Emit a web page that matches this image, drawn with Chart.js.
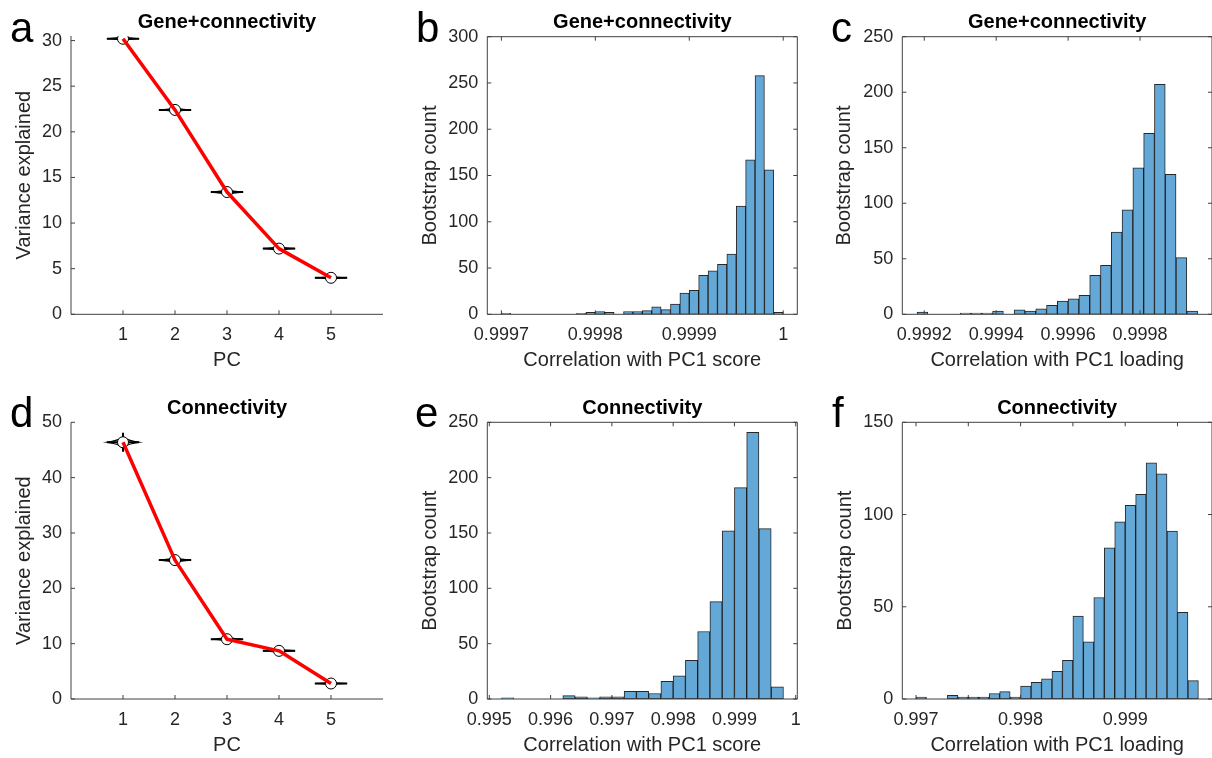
<!DOCTYPE html>
<html>
<head>
<meta charset="utf-8">
<script src="https://cdn.jsdelivr.net/npm/chart.js@4.4.1/dist/chart.umd.min.js"></script>
<style>
  body { margin: 0; background: #fff; }
  #fig { position: relative; width: 1212px; height: 758px; overflow: hidden; }
  #fig canvas { position: absolute; }
</style>
</head>
<body>
<div id="fig">
  <canvas id="pa" width="404" height="379" style="left:0px;top:0px"></canvas>
  <canvas id="pb" width="404" height="379" style="left:404px;top:0px"></canvas>
  <canvas id="pc" width="404" height="379" style="left:808px;top:0px"></canvas>
  <canvas id="pd" width="404" height="379" style="left:0px;top:379px"></canvas>
  <canvas id="pe" width="404" height="379" style="left:404px;top:379px"></canvas>
  <canvas id="pf" width="404" height="379" style="left:808px;top:379px"></canvas>
</div>
<script>
// variance explained by the first five PCs
const pcs = [1, 2, 3, 4, 5]
const varGeneConn = [30.2, 22.4, 13.4, 7.2, 4.0]
const varConn = [46.4, 25.1, 10.8, 8.7, 2.8]
// bootstrap spread (half height of the violin) and whisker half length
const spreadGeneConn = [0.2, 0.2, 0.25, 0.2, 0.17]
const spreadConn = [0.95, 0.5, 0.38, 0.3, 0.22]
const whiskerGeneConn = [0, 0, 0, 0, 0]
const whiskerConn = [1.7, 0, 0, 0, 0]

// bootstrap histograms : first bin edge, bin width, counts
const scoreGCStart = 0.9997, scoreGCWidth = 0.00001
const scoreGCCounts = [1, 0, 0, 0, 0, 0, 0, 0, 1, 2, 3, 2, 0, 3, 3, 4, 8, 5, 11, 23, 26, 42, 47, 54, 65, 117, 167, 258, 156, 2]
const loadGCStart = 0.99918, loadGCWidth = 0.00003
const loadGCCounts = [2, 0, 0, 0, 1, 1, 1, 3, 0, 4, 3, 5, 8, 12, 14, 17, 35, 44, 74, 94, 132, 163, 207, 126, 51, 3]
const scoreCStart = 0.9952, scoreCWidth = 0.0002
const scoreCCounts = [1, 0, 0, 0, 0, 3, 2, 1, 2, 2, 7, 7, 5, 16, 21, 35, 61, 88, 152, 191, 241, 154, 11]
const loadCStart = 0.997, loadCWidth = 0.0001
const loadCCounts = [1, 0, 0, 2, 1, 1, 1, 3, 4, 1, 7, 9, 11, 15, 21, 45, 31, 55, 82, 96, 105, 111, 128, 122, 91, 47, 10]

// ticks
const pcTicks = [1, 2, 3, 4, 5]
const varGCTicks = [0, 5, 10, 15, 20, 25, 30]
const varCTicks = [0, 10, 20, 30, 40, 50]
const scoreGCTicks = [0.9997, 0.9998, 0.9999, 1]
const scoreGCLabels = ['0.9997', '0.9998', '0.9999', '1']
const loadGCTicks = [0.9992, 0.9994, 0.9996, 0.9998]
const loadGCLabels = ['0.9992', '0.9994', '0.9996', '0.9998']
const scoreCTicks = [0.995, 0.996, 0.997, 0.998, 0.999, 1]
const scoreCLabels = ['0.995', '0.996', '0.997', '0.998', '0.999', '1']
const loadCTicks = [0.997, 0.9975, 0.998, 0.9985, 0.999, 0.9995]
const loadCLabels = ['0.997', '', '0.998', '', '0.999', '']
const countTicks300 = [0, 50, 100, 150, 200, 250, 300]
const countTicks250 = [0, 50, 100, 150, 200, 250]
const countTicks150 = [0, 50, 100, 150]

const axisColor = '#404040'
const textColor = '#262626'
const barFill = '#63a8d6'
const barEdge = 'rgba(15,15,15,0.9)'
const tickLen = 4
const xAxisHeight = 58.5

Chart.defaults.font.family = '"Liberation Sans", Arial, Helvetica, sans-serif'
Chart.defaults.color = textColor

// bin centres for the linear x axis
const binPoints = (start, width, counts) => counts.map((c, i) => ({ x: start + (i + 0.5) * width, y: c }))

// axes lines and inward ticks (box for the histograms)
const frame = {
  id: 'frame',
  afterDatasetsDraw(chart, args, opts) {
    const { ctx, chartArea: { left, right, top, bottom }, scales: { x, y } } = chart
    ctx.save()
    ctx.strokeStyle = axisColor
    ctx.lineWidth = 1
    ctx.beginPath()
    ctx.moveTo(left, top); ctx.lineTo(left, bottom); ctx.lineTo(right, bottom)
    if (opts.box) { ctx.lineTo(right, top); ctx.lineTo(left, top) }
    x.ticks.forEach(t => {
      const px = x.getPixelForValue(t.value)
      ctx.moveTo(px, bottom); ctx.lineTo(px, bottom - tickLen)
      if (opts.box) { ctx.moveTo(px, top); ctx.lineTo(px, top + tickLen) }
    })
    y.ticks.forEach(t => {
      const py = y.getPixelForValue(t.value)
      ctx.moveTo(left, py); ctx.lineTo(left + tickLen, py)
      if (opts.box) { ctx.moveTo(right, py); ctx.lineTo(right - tickLen, py) }
    })
    ctx.stroke()
    ctx.restore()
  }
}

// panel letter + bold title over the plot
const panelText = {
  id: 'panelText',
  afterDraw(chart, args, opts) {
    const { ctx, chartArea: { left, right, top } } = chart
    ctx.save()
    ctx.fillStyle = '#000'
    ctx.textBaseline = 'alphabetic'
    ctx.textAlign = 'center'
    ctx.font = 'bold 20px "Liberation Sans", Arial, sans-serif'
    ctx.fillText(opts.title, (left + right) / 2, top - 8.5)
    ctx.textAlign = 'left'
    ctx.font = '42px "Liberation Sans", Arial, sans-serif'
    ctx.fillText(opts.letter, opts.letterX, opts.letterY)
    ctx.restore()
  }
}

// violin-like bootstrap distributions behind the markers
const violins = {
  id: 'violins',
  beforeDatasetsDraw(chart, args, opts) {
    if (!opts.values) return
    const { ctx, scales: { x, y } } = chart
    ctx.save()
    opts.values.forEach((v, i) => {
      const cx = x.getPixelForValue(pcs[i])
      const cy = y.getPixelForValue(v)
      const hw = x.getPixelForValue(pcs[i] + opts.halfWidth) - cx
      const hh = Math.max(cy - y.getPixelForValue(v + opts.spread[i]), 0.8)
      ctx.beginPath()
      ctx.moveTo(cx - hw, cy)
      ctx.quadraticCurveTo(cx - hw * 0.3, cy - hh * 0.3, cx, cy - hh)
      ctx.quadraticCurveTo(cx + hw * 0.3, cy - hh * 0.3, cx + hw, cy)
      ctx.quadraticCurveTo(cx + hw * 0.3, cy + hh * 0.3, cx, cy + hh)
      ctx.quadraticCurveTo(cx - hw * 0.3, cy + hh * 0.3, cx - hw, cy)
      ctx.closePath()
      ctx.fillStyle = '#cfcfcf'
      ctx.fill()
      ctx.strokeStyle = '#000'
      ctx.lineWidth = 1.2
      ctx.stroke()
      ctx.lineWidth = 2
      ctx.beginPath()
      ctx.moveTo(cx - hw, cy); ctx.lineTo(cx + hw, cy)
      if (opts.whisker[i] > 0) {
        const wh = cy - y.getPixelForValue(v + opts.whisker[i])
        ctx.moveTo(cx, cy - wh); ctx.lineTo(cx, cy + wh)
      }
      ctx.stroke()
    })
    ctx.restore()
  }
}

function xAxis(min, max, values, labels, text) {
  return {
    type: 'linear', min, max, offset: false, bounds: 'data',
    grid: { display: false, drawTicks: false },
    border: { display: false },
    ticks: { autoSkip: false, maxRotation: 0, minRotation: 0, padding: 10, font: { size: 18 }, color: textColor,
      callback: (v, i) => labels[i] },
    title: { display: true, text, font: { size: 20 }, color: textColor, padding: 0 },
    afterBuildTicks: s => { s.ticks = values.map(v => ({ value: v })) },
    afterFit: s => { s.height = xAxisHeight; s.paddingLeft = 0; s.paddingRight = 0 }
  }
}

function yAxis(min, max, values, text, width) {
  return {
    type: 'linear', min, max, bounds: 'data',
    grid: { display: false, drawTicks: false },
    border: { display: false },
    ticks: { autoSkip: false, padding: 9, font: { size: 18 }, color: textColor, callback: v => String(v) },
    title: { display: true, text, font: { size: 20 }, color: textColor, padding: 0 },
    afterBuildTicks: s => { s.ticks = values.map(v => ({ value: v })) },
    afterFit: s => { s.width = width; s.paddingTop = 0; s.paddingBottom = 0 }
  }
}

// padding so that the plot box lands on [left, top, right, bottom] of the page
function layoutFor(el, plot, yWidth) {
  const cx = parseFloat(el.style.left), cy = parseFloat(el.style.top)
  return {
    left: plot[0] - yWidth - cx,
    top: plot[1] - cy,
    right: cx + el.width - plot[2],
    bottom: cy + el.height - plot[3] - xAxisHeight
  }
}

function varianceChart(id, values, spread, whisker, yMax, yTicks, title, letter, plot) {
  const el = document.getElementById(id)
  const top = parseFloat(el.style.top)
  return new Chart(el, {
    type: 'line',
    data: {
      datasets: [
        {
          data: pcs.map((p, i) => ({ x: p, y: values[i] })),
          showLine: false, pointRadius: 5.5, pointBackgroundColor: '#fff',
          pointBorderColor: '#000', pointBorderWidth: 1, order: 2
        },
        {
          data: pcs.map((p, i) => ({ x: p, y: values[i] })),
          borderColor: '#ff0000', borderWidth: 3.5, pointRadius: 0, tension: 0,
          borderJoinStyle: 'round', order: 1
        }
      ]
    },
    options: {
      responsive: false, animation: false, devicePixelRatio: 1, events: [],
      layout: { padding: layoutFor(el, plot, 59) },
      plugins: {
        legend: { display: false }, tooltip: { enabled: false },
        frame: { box: false },
        panelText: { title, letter, letterX: 10, letterY: top > 0 ? 426.7 - top : 41.7 },
        violins: { values, spread, whisker, halfWidth: 0.31 }
      },
      scales: {
        x: xAxis(0, 6, pcTicks, pcTicks.map(String), 'PC'),
        y: yAxis(0, yMax, yTicks, 'Variance explained', 59)
      }
    },
    plugins: [frame, panelText, violins]
  })
}

function histChart(id, start, width, counts, xMin, xMax, xTicks, xLabels, yMax, yTicks, xTitle, title, letter, letterX, plot, yWidth) {
  const el = document.getElementById(id)
  const left = parseFloat(el.style.left), top = parseFloat(el.style.top)
  return new Chart(el, {
    type: 'bar',
    data: {
      datasets: [{
        data: binPoints(start, width, counts),
        backgroundColor: barFill, borderColor: barEdge, borderWidth: 1,
        borderSkipped: false, barPercentage: 1, categoryPercentage: 1
      }]
    },
    options: {
      responsive: false, animation: false, devicePixelRatio: 1, events: [],
      layout: { padding: layoutFor(el, plot, yWidth) },
      plugins: {
        legend: { display: false }, tooltip: { enabled: false },
        frame: { box: true },
        panelText: { title, letter, letterX: letterX - left, letterY: top > 0 ? 426.7 - top : 41.7 }
      },
      scales: {
        x: xAxis(xMin, xMax, xTicks, xLabels, xTitle),
        y: yAxis(0, yMax, yTicks, 'Bootstrap count', yWidth)
      }
    },
    plugins: [frame, panelText]
  })
}

varianceChart('pa', varGeneConn, spreadGeneConn, whiskerGeneConn, 30.5, varGCTicks, 'Gene+connectivity', 'a', [71, 36, 383, 314.3])
varianceChart('pd', varConn, spreadConn, whiskerConn, 50, varCTicks, 'Connectivity', 'd', [71, 422.3, 383, 699])

histChart('pb', scoreGCStart, scoreGCWidth, scoreGCCounts, 0.999685, 1.000015, scoreGCTicks, scoreGCLabels,
  300, countTicks300, 'Correlation with PC1 score', 'Gene+connectivity', 'b', 416, [487.3, 36.7, 797.3, 314.3], 69.3)
histChart('pc', loadGCStart, loadGCWidth, loadGCCounts, 0.999139, 1.0, loadGCTicks, loadGCLabels,
  250, countTicks250, 'Correlation with PC1 loading', 'Gene+connectivity', 'c', 831, [902.3, 36.7, 1212, 314.3], 69.8)
histChart('pe', scoreCStart, scoreCWidth, scoreCCounts, 0.994967, 1.000026, scoreCTicks, scoreCLabels,
  250, countTicks250, 'Correlation with PC1 score', 'Connectivity', 'e', 415, [487.3, 422.3, 797.3, 699], 69.3)
histChart('pf', loadCStart, loadCWidth, loadCCounts, 0.996869, 0.99983, loadCTicks, loadCLabels,
  150, countTicks150, 'Correlation with PC1 loading', 'Connectivity', 'f', 832, [902.3, 422.3, 1212, 699], 69.3)
</script>
</body>
</html>
